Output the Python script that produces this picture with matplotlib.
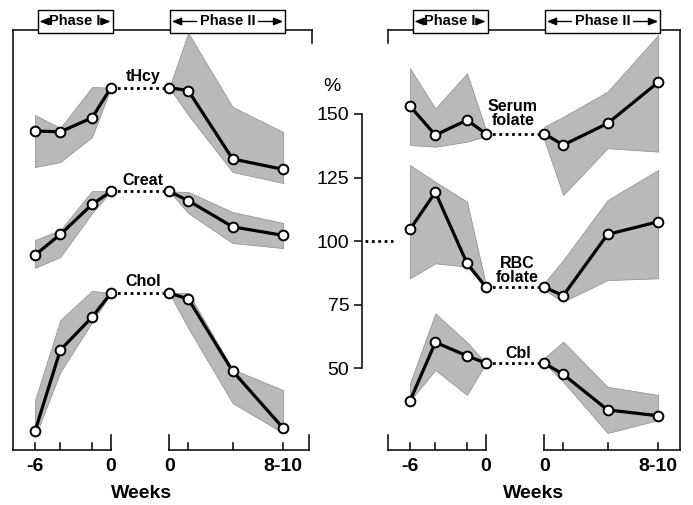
import matplotlib.pyplot as plt
import matplotlib.transforms as mtransforms
from matplotlib.patches import Rectangle

plt.rcParams['font.family'] = ['Liberation Sans', 'DejaVu Sans']

# weeks of sampling in each phase
weeks_p1 = [-6, -4, -1.5, 0]
weeks_p2 = [0, 1.5, 5, 9]

# left panel (values on the common % scale)
thcy_p1 = [143.3, 143.0, 148.5, 160.4]
thcy_p1_lo = [129.1, 131.1, 140.9, 160.4]
thcy_p1_hi = [149.6, 144.5, 160.6, 160.4]
thcy_p2 = [160.4, 159.2, 132.3, 128.2]
thcy_p2_lo = [160.4, 149.6, 127.2, 122.8]
thcy_p2_hi = [160.4, 181.9, 152.8, 142.9]

creat_p1 = [94.5, 102.6, 114.4, 119.5]
creat_p1_lo = [89.4, 93.7, 111.0, 119.5]
creat_p1_hi = [100.4, 104.3, 119.7, 119.5]
creat_p2 = [119.5, 115.9, 105.6, 102.2]
creat_p2_lo = [119.5, 111.0, 99.2, 97.2]
creat_p2_hi = [119.5, 119.3, 111.4, 107.1]

chol_p1 = [25.2, 57.1, 70.0, 79.5]
chol_p1_lo = [22.8, 48.4, 68.0, 79.5]
chol_p1_hi = [37.4, 68.9, 80.4, 79.5]
chol_p2 = [79.5, 77.2, 48.8, 26.3]
chol_p2_lo = [79.5, 65.7, 36.2, 24.4]
chol_p2_hi = [79.5, 79.6, 49.5, 41.3]

# right panel
sfol_p1 = [153.1, 141.7, 147.6, 142.2]
sfol_p1_lo = [137.8, 137.1, 139.1, 141.3]
sfol_p1_hi = [168.0, 152.2, 166.0, 143.7]
sfol_p2 = [142.2, 137.8, 146.3, 162.5]
sfol_p2_lo = [139.8, 118.1, 136.5, 135.2]
sfol_p2_hi = [145.0, 148.9, 158.8, 181.1]

rbc_p1 = [104.6, 119.2, 91.2, 81.8]
rbc_p1_lo = [85.3, 91.2, 89.9, 81.8]
rbc_p1_hi = [129.9, 123.3, 115.5, 82.7]
rbc_p2 = [81.8, 78.5, 102.6, 107.6]
rbc_p2_lo = [80.7, 76.1, 84.6, 85.3]
rbc_p2_hi = [83.5, 92.5, 116.1, 128.0]

cbl_p1 = [37.1, 60.1, 54.8, 51.9]
cbl_p1_lo = [37.1, 49.2, 39.4, 51.9]
cbl_p1_hi = [44.1, 71.5, 60.2, 51.9]
cbl_p2 = [51.9, 47.5, 33.5, 31.2]
cbl_p2_lo = [51.9, 44.6, 24.4, 29.5]
cbl_p2_hi = [53.9, 60.4, 42.6, 39.4]

pct_ticks = [50, 75, 100, 125, 150]
week_labels = ['-6', '0', '0', '8-10']

GAP = 4.6          # horizontal gap between the two phases (in weeks)
PXW = 12.667       # pixels per week
YLIM = (17.72, 183.07)
BAND = '#b9b9b9'
LW = 1.1
HEAD = 8 / PXW     # arrow head length in weeks

fig = plt.figure(figsize=(6.93, 5.05), dpi=100)
ax1 = fig.add_axes([13 / 693, 0.1089, 299 / 693, 0.8317])
ax2 = fig.add_axes([388 / 693, 0.1089, 292 / 693, 0.8317])
ax1.set_xlim(-7.74, 15.87)
ax2.set_xlim(-7.74, 15.32)

x2 = [w + GAP for w in weeks_p2]


def draw_series(ax, p1, p1_lo, p1_hi, p2, p2_lo, p2_hi, label, lx, ly):
    for xs, m, lo, hi in ((weeks_p1, p1, p1_lo, p1_hi), (x2, p2, p2_lo, p2_hi)):
        ax.fill_between(xs, lo, hi, facecolor=BAND, edgecolor='#8c8c8c', lw=0.5, zorder=1)
        ax.plot(xs, m, color='k', lw=2.3, marker='o', ms=7, mfc='white',
                mec='k', mew=1.4, zorder=4)
    ax.plot([0, GAP], [p1[-1], p2[0]], color='k', lw=2.0, ls=(0, (1, 1.3)), zorder=3)
    ax.text(lx, ly, label, fontsize=11.5, fontweight='bold', ha='center',
            va='baseline', linespacing=0.95, zorder=5)


def frame(ax, p2_end, tall, small):
    trans = mtransforms.blended_transform_factory(ax.transData, ax.transAxes)
    kw = dict(transform=trans, color='k', lw=LW, clip_on=False, solid_capstyle='projecting')
    x0 = ax.get_xlim()[0]
    ax.plot([x0, 0], [0, 0], **kw)
    ax.plot([GAP, p2_end], [0, 0], **kw)
    for x in tall:
        ax.plot([x, x], [0, 0.036], **kw)
    for x in small:
        ax.plot([x, x], [0, 0.017], **kw)
    ax.set_xticks([-6, 0, GAP, GAP + 9], week_labels, fontweight='bold')
    ax.tick_params(axis='x', length=0, labelsize=14, pad=6)
    ax.set_xlabel('Weeks', fontsize=14, fontweight='bold')

    # phase boxes
    yb0, yb1 = 0.9929, 1.0476
    yc = (yb0 + yb1) / 2
    for bx0, bx1, txt, tw in ((-5.8, 0.12, 'Phase I', None), (4.65, 13.75, 'Phase II', 58.0)):
        ax.add_patch(Rectangle((bx0, yb0), bx1 - bx0, yb1 - yb0, transform=trans,
                               facecolor='white', edgecolor='k', lw=1.0,
                               clip_on=False, zorder=6))
        c = (bx0 + bx1) / 2
        ax.text(c, yc, txt, transform=trans, fontsize=10.5, fontweight='bold',
                ha='center', va='center', zorder=7)
        tipl, tipr = bx0 + 0.15, bx1 - 0.15
        if tw is None:
            tails = (tipl + HEAD, tipr - HEAD)
        else:
            hw = tw / 2 / PXW
            tails = (c - hw - 0.15, c + hw + 0.15)
        for tail, tip in zip(tails, (tipl, tipr)):
            ax.annotate('', xy=(tip, yc), xytext=(tail, yc), xycoords=trans,
                        textcoords=trans, annotation_clip=False, zorder=7,
                        arrowprops=dict(arrowstyle='-|>,head_length=0.42,head_width=0.17',
                                        mutation_scale=13.5, lw=1.0, color='k',
                                        shrinkA=0, shrinkB=0))


for ax in (ax1, ax2):
    ax.set_ylim(*YLIM)
    ax.set_facecolor('none')
    ax.spines['bottom'].set_visible(False)
    for s in ax.spines.values():
        s.set_linewidth(LW)

# left panel frame
ax1.spines['right'].set_visible(False)
ax1.set_yticks([])
ax1.plot([1, 1], [1, 0.969], transform=ax1.transAxes, color='k', lw=LW, clip_on=False)
frame(ax1, GAP + 11.03, [0, GAP, GAP + 11.03], [-6, -4, -1.5, GAP + 1.5, GAP + 5, GAP + 9])
ax1.xaxis.set_label_coords(0.431, -0.083)

# right panel frame with the % axis
ax2.spines['left'].set_position(('outward', 19))
ax2.spines['left'].set_bounds(50, 150)
ax2.set_yticks(pct_ticks)
ax2.tick_params(axis='y', length=5.8, width=LW, labelsize=14, pad=3)
ax2.plot([0, 0], [1, 0.969], transform=ax2.transAxes, color='k', lw=LW, clip_on=False)
frame(ax2, ax2.get_xlim()[1], [ax2.get_xlim()[0], 0, GAP], [-6, -4, -1.5, GAP + 1.5, GAP + 5, GAP + 9])
ax2.xaxis.set_label_coords(0.5, -0.083)
ax2.text(-12.16, 161.0, '%', fontsize=14, ha='center', va='center')
ax2.plot([-9.55, -7.34], [100, 100], color='k', lw=2.0, ls=(0, (1, 1.3)), clip_on=False)

draw_series(ax1, thcy_p1, thcy_p1_lo, thcy_p1_hi, thcy_p2, thcy_p2_lo, thcy_p2_hi,
            'tHcy', 2.57, 163.0)
draw_series(ax1, creat_p1, creat_p1_lo, creat_p1_hi, creat_p2, creat_p2_lo, creat_p2_hi,
            'Creat', 2.53, 122.0)
draw_series(ax1, chol_p1, chol_p1_lo, chol_p1_hi, chol_p2, chol_p2_lo, chol_p2_hi,
            'Chol', 2.53, 82.3)
draw_series(ax2, sfol_p1, sfol_p1_lo, sfol_p1_hi, sfol_p2, sfol_p2_lo, sfol_p2_hi,
            'Serum\nfolate', 2.13, 145.7)
draw_series(ax2, rbc_p1, rbc_p1_lo, rbc_p1_hi, rbc_p2, rbc_p2_lo, rbc_p2_hi,
            'RBC\nfolate', 2.45, 83.9)
draw_series(ax2, cbl_p1, cbl_p1_lo, cbl_p1_hi, cbl_p2, cbl_p2_lo, cbl_p2_hi,
            'Cbl', 2.53, 53.9)

fig.savefig('out.png', dpi=100)
